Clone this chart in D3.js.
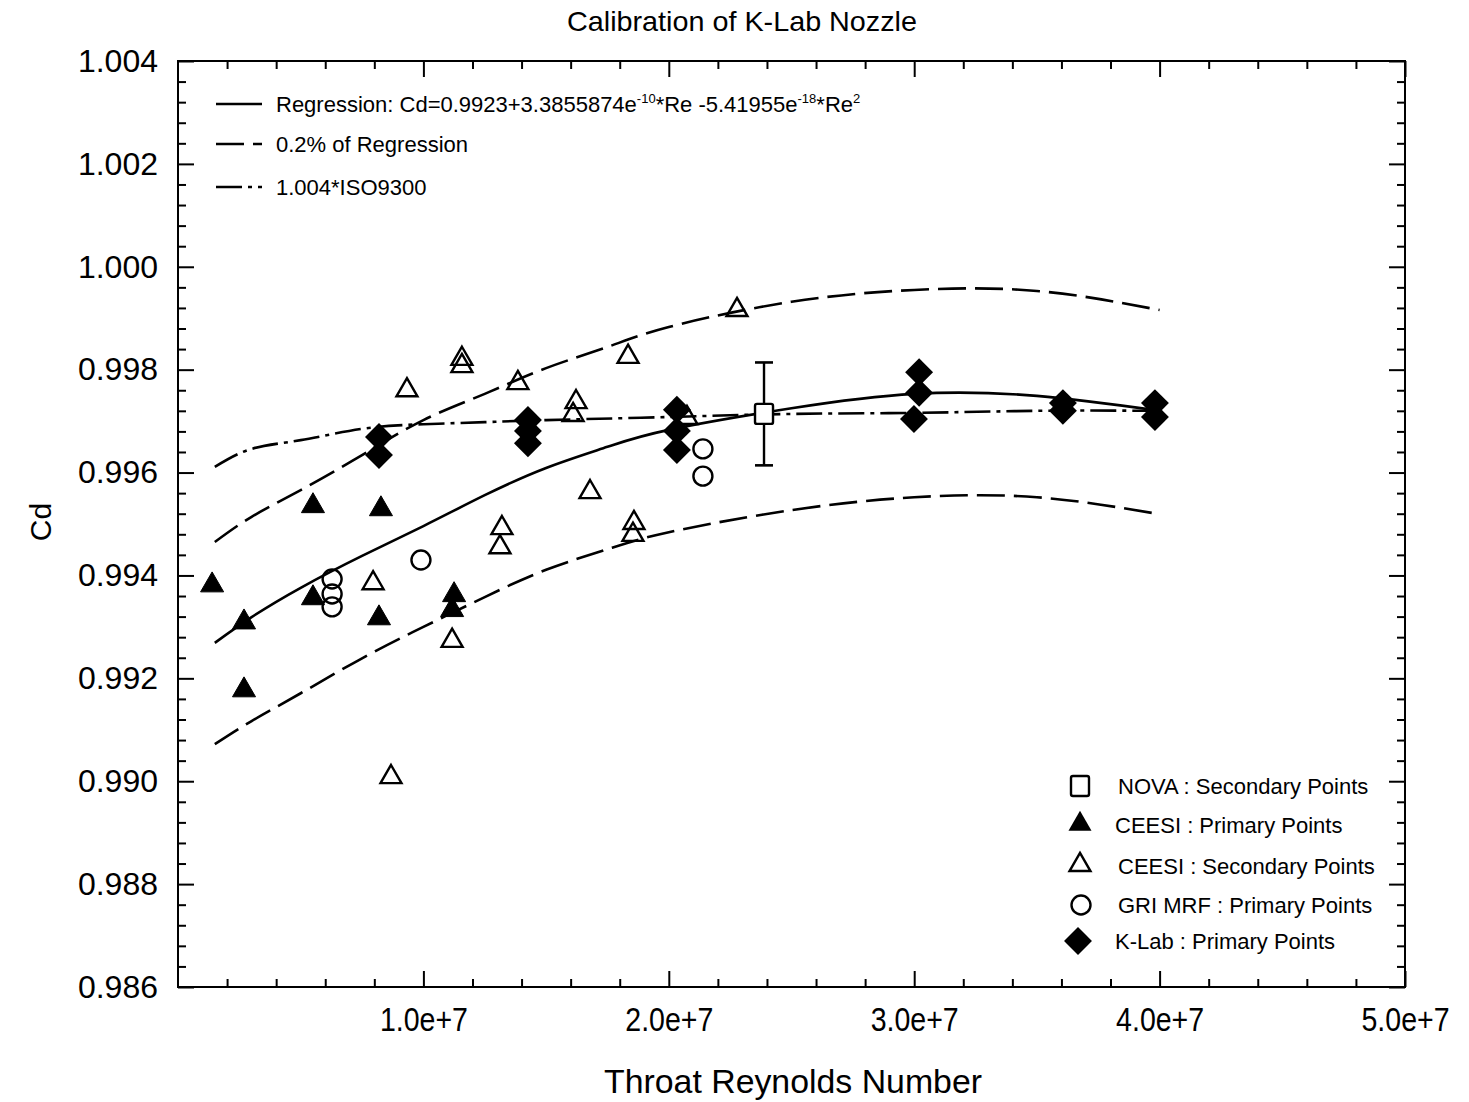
<!DOCTYPE html>
<html>
<head>
<meta charset="utf-8">
<script src="https://cdn.jsdelivr.net/npm/d3@7"></script>
<style>
  body { margin: 0; background: #fff; }
  text { fill: #000; }
  .narrow { font-family: "Liberation Sans Narrow", "Arial Narrow", "Liberation Sans", sans-serif; }
  .wide { font-family: "Liberation Sans", Arial, sans-serif; }
</style>
</head>
<body>
<div class="chart"></div>
<script>
// Curves (Throat Reynolds number, Cd)
var curveRe = [1.5e6, 3e6, 5e6, 7.5e6, 1e7, 1.25e7, 1.5e7, 1.75e7, 2e7, 2.5e7, 3e7, 3.5e7, 4e7];
var regressionCd = [0.99269, 0.99319, 0.99376, 0.99438, 0.99496, 0.99556, 0.99609, 0.99650, 0.99683, 0.99725, 0.99753, 0.99749, 0.99720];
var upperCd = [0.99465, 0.99514, 0.99566, 0.99634, 0.99702, 0.99753, 0.99803, 0.99844, 0.99883, 0.99932, 0.99955, 0.99953, 0.99916];
var lowerCd = [0.99072, 0.99117, 0.99171, 0.99239, 0.99300, 0.99358, 0.99411, 0.99451, 0.99484, 0.99527, 0.99552, 0.99552, 0.99519];
var isoRe = [1.5e6, 3e6, 5e6, 7.5e6, 1e7, 1.25e7, 1.5e7, 2e7, 2.5e7, 3e7, 3.5e7, 4e7];
var isoCd = [0.99611, 0.99646, 0.99663, 0.99685, 0.99694, 0.99698, 0.99702, 0.99708, 0.99714, 0.99716, 0.99720, 0.99720];

// Measured points
var novaRe = [2.388e7];
var novaCd = [0.99714];
var novaErr = [0.0010];

var ceesiPrimRe = [1.39e6, 2.69e6, 2.69e6, 5.50e6, 5.50e6, 8.27e6, 8.19e6, 11.25e6, 11.17e6];
var ceesiPrimCd = [0.99381, 0.99309, 0.99177, 0.99535, 0.99356, 0.99529, 0.99317, 0.99362, 0.99333];

var ceesiSecRe = [8.68e6, 11.57e6, 11.57e6, 9.33e6, 13.85e6, 7.95e6, 11.17e6, 13.20e6, 13.12e6,
                  16.22e6, 16.10e6, 16.79e6, 18.34e6, 18.58e6, 18.54e6, 20.74e6, 22.78e6];
var ceesiSecCd = [0.99008, 0.99821, 0.99807, 0.99760, 0.99774, 0.99385, 0.99273, 0.99492, 0.99455,
                  0.99737, 0.99712, 0.99562, 0.99825, 0.99502, 0.99479, 0.99706, 0.99916];

var griRe = [6.28e6, 6.28e6, 6.28e6, 9.90e6, 21.39e6, 21.39e6];
var griCd = [0.99393, 0.99364, 0.99339, 0.99430, 0.99646, 0.99593];

var klabRe = [8.19e6, 8.19e6, 14.26e6, 14.26e6, 14.26e6, 20.33e6, 20.33e6, 20.33e6,
              30.20e6, 30.20e6, 29.99e6, 36.06e6, 36.06e6, 39.81e6, 39.81e6];
var klabCd = [0.99669, 0.99634, 0.99702, 0.99681, 0.99657, 0.99722, 0.99681, 0.99644,
              0.99795, 0.99755, 0.99704, 0.99735, 0.99720, 0.99735, 0.99708];

var xMajor = [1e7, 2e7, 3e7, 4e7, 5e7];
var xLabels = ["1.0e+7", "2.0e+7", "3.0e+7", "4.0e+7", "5.0e+7"];
var yMajor = [0.986, 0.988, 0.990, 0.992, 0.994, 0.996, 0.998, 1.000, 1.002, 1.004];
var yLabels = ["0.986", "0.988", "0.990", "0.992", "0.994", "0.996", "0.998", "1.000", "1.002", "1.004"];

var lineLegend = ["0.2% of Regression", "1.004*ISO9300"];
var pointLegend = ["NOVA : Secondary Points", "CEESI : Primary Points", "CEESI : Secondary Points",
                   "GRI MRF : Primary Points", "K-Lab : Primary Points"];

var svgWidth = 1469, svgHeight = 1102;
var plot = { left: 178, right: 1405, top: 61, bottom: 987 };

var svg = d3.select(".chart").append("svg")
    .attr("width", svgWidth)
    .attr("height", svgHeight);

var x = d3.scaleLinear().domain([0, 5e7]).range([plot.left, plot.right]);
var y = d3.scaleLinear().domain([0.986, 1.004]).range([plot.bottom, plot.top]);

var xMinor = d3.range(2e6, 5e7, 2e6).filter(function(v) { return v % 1e7 !== 0; });
var yMinor = d3.range(0, 45).map(function(i) { return 0.986 + i * 0.0004; })
    .filter(function(v, i) { return i % 5 !== 0; });

function styleAxis(g) {
    g.select(".domain").remove();
    g.selectAll("line").attr("stroke", "#000").attr("stroke-width", 2);
}

// Axes: ticks pointing inward on all four sides
svg.append("g").attr("transform", "translate(0," + plot.bottom + ")")
    .call(d3.axisBottom(x).tickValues(xMajor).tickSize(-16).tickPadding(20)
        .tickFormat(function(d, i) { return xLabels[i]; }))
    .call(styleAxis)
    .selectAll("text").attr("class", "narrow").style("font-size", "34px")
    .attr("textLength", 88).attr("lengthAdjust", "spacingAndGlyphs");
svg.append("g").attr("transform", "translate(0," + plot.bottom + ")")
    .call(d3.axisBottom(x).tickValues(xMinor).tickSize(-8).tickFormat(""))
    .call(styleAxis);
svg.append("g").attr("transform", "translate(0," + plot.top + ")")
    .call(d3.axisTop(x).tickValues(xMajor).tickSize(-16).tickFormat(""))
    .call(styleAxis);
svg.append("g").attr("transform", "translate(0," + plot.top + ")")
    .call(d3.axisTop(x).tickValues(xMinor).tickSize(-8).tickFormat(""))
    .call(styleAxis);

svg.append("g").attr("transform", "translate(" + plot.left + ",0)")
    .call(d3.axisLeft(y).tickValues(yMajor).tickSize(-16).tickPadding(20)
        .tickFormat(function(d, i) { return yLabels[i]; }))
    .call(styleAxis)
    .selectAll("text").attr("class", "wide").style("font-size", "32px");
svg.append("g").attr("transform", "translate(" + plot.left + ",0)")
    .call(d3.axisLeft(y).tickValues(yMinor).tickSize(-8).tickFormat(""))
    .call(styleAxis);
svg.append("g").attr("transform", "translate(" + plot.right + ",0)")
    .call(d3.axisRight(y).tickValues(yMajor).tickSize(-16).tickFormat(""))
    .call(styleAxis);
svg.append("g").attr("transform", "translate(" + plot.right + ",0)")
    .call(d3.axisRight(y).tickValues(yMinor).tickSize(-8).tickFormat(""))
    .call(styleAxis);

// frame
svg.append("rect")
    .attr("x", plot.left).attr("y", plot.top)
    .attr("width", plot.right - plot.left).attr("height", plot.bottom - plot.top)
    .attr("fill", "none").attr("stroke", "#000").attr("stroke-width", 2);

// Titles
svg.append("text").attr("class", "narrow")
    .attr("x", 742).attr("y", 31).attr("text-anchor", "middle")
    .attr("textLength", 350).attr("lengthAdjust", "spacingAndGlyphs")
    .style("font-size", "28px").text("Calibration of K-Lab Nozzle");
svg.append("text").attr("class", "wide")
    .attr("x", 793).attr("y", 1093).attr("text-anchor", "middle")
    .attr("textLength", 378).attr("lengthAdjust", "spacingAndGlyphs")
    .style("font-size", "33px").text("Throat Reynolds Number");
svg.append("text").attr("class", "wide")
    .attr("transform", "translate(51,522) rotate(-90)").attr("text-anchor", "middle")
    .style("font-size", "30px").text("Cd");

// Curves
var line = d3.line()
    .x(function(d) { return x(d[0]); })
    .y(function(d) { return y(d[1]); })
    .curve(d3.curveNatural);

var dashed = "28,9";
var dashDot = "26,6,4,6";

function drawCurve(re, cd, dash) {
    svg.append("path")
        .datum(d3.zip(re, cd))
        .attr("d", line)
        .attr("fill", "none")
        .attr("stroke", "#000")
        .attr("stroke-width", 2.6)
        .attr("stroke-dasharray", dash);
}
drawCurve(curveRe, upperCd, dashed);
drawCurve(curveRe, lowerCd, dashed);
drawCurve(isoRe, isoCd, dashDot);
drawCurve(curveRe, regressionCd, null);

// Marker helpers
function triangle(size) { return d3.symbol().type(d3.symbolTriangle).size(size)(); }
var diamondPath = d3.symbol().type(d3.symbolSquare).size(390)();

function drawTriangles(re, cd, filled) {
    svg.append("g").selectAll("path")
        .data(d3.zip(re, cd))
        .enter()
        .append("path")
        .attr("d", filled ? triangle(230) : triangle(190))
        .attr("transform", function(d) { return "translate(" + x(d[0]) + "," + y(d[1]) + ")"; })
        .attr("fill", filled ? "#000" : "none")
        .attr("stroke", "#000")
        .attr("stroke-width", filled ? 1 : 2.4);
}

// NOVA error bar and square
var nova = d3.zip(novaRe, novaCd, novaErr);
var novaG = svg.append("g").selectAll("g").data(nova).enter().append("g");
novaG.append("line")
    .attr("x1", function(d) { return x(d[0]); }).attr("x2", function(d) { return x(d[0]); })
    .attr("y1", function(d) { return y(d[1] + d[2]); }).attr("y2", function(d) { return y(d[1] - d[2]); })
    .attr("stroke", "#000").attr("stroke-width", 2.4);
[1, -1].forEach(function(s) {
    novaG.append("line")
        .attr("x1", function(d) { return x(d[0]) - 9; }).attr("x2", function(d) { return x(d[0]) + 9; })
        .attr("y1", function(d) { return y(d[1] + s * d[2]); }).attr("y2", function(d) { return y(d[1] + s * d[2]); })
        .attr("stroke", "#000").attr("stroke-width", 2.6);
});
novaG.append("rect")
    .attr("x", function(d) { return x(d[0]) - 9; }).attr("y", function(d) { return y(d[1]) - 10; })
    .attr("width", 18).attr("height", 20).attr("rx", 2)
    .attr("fill", "#fff").attr("stroke", "#000").attr("stroke-width", 2.4);

drawTriangles(ceesiPrimRe, ceesiPrimCd, true);
drawTriangles(ceesiSecRe, ceesiSecCd, false);

svg.append("g").selectAll("circle")
    .data(d3.zip(griRe, griCd))
    .enter()
    .append("circle")
    .attr("cx", function(d) { return x(d[0]); })
    .attr("cy", function(d) { return y(d[1]); })
    .attr("r", 9.5)
    .attr("fill", "none")
    .attr("stroke", "#000")
    .attr("stroke-width", 2.4);

svg.append("g").selectAll("path")
    .data(d3.zip(klabRe, klabCd))
    .enter()
    .append("path")
    .attr("d", diamondPath)
    .attr("transform", function(d) { return "translate(" + x(d[0]) + "," + y(d[1]) + ") rotate(45)"; })
    .attr("fill", "#000");

// Legend: lines (top left)
var legendLines = svg.append("g").attr("class", "narrow").style("font-size", "22px");
var ly = [104, 144, 187];
[null, dashed, dashDot].forEach(function(dash, i) {
    legendLines.append("line")
        .attr("x1", 216).attr("x2", 262).attr("y1", ly[i]).attr("y2", ly[i])
        .attr("stroke", "#000").attr("stroke-width", 2.4)
        .attr("stroke-dasharray", dash);
});
var reg = legendLines.append("text").attr("x", 276).attr("y", ly[0] + 8);
reg.append("tspan").text("Regression: Cd=0.9923+3.3855874e");
reg.append("tspan").attr("dy", -9).style("font-size", "13px").text("-10");
reg.append("tspan").attr("dy", 9).text("*Re  -5.41955e");
reg.append("tspan").attr("dy", -9).style("font-size", "13px").text("-18");
reg.append("tspan").attr("dy", 9).text("*Re");
reg.append("tspan").attr("dy", -9).style("font-size", "13px").text("2");
lineLegend.forEach(function(t, i) {
    legendLines.append("text").attr("x", 276).attr("y", ly[i + 1] + 8).text(t);
});

// Legend: points (bottom right)
var py = [786, 825, 866, 905, 941];
var legendPts = svg.append("g");
legendPts.append("rect").attr("x", 1071).attr("y", py[0] - 10).attr("width", 18).attr("height", 20).attr("rx", 2)
    .attr("fill", "none").attr("stroke", "#000").attr("stroke-width", 2.4);
legendPts.append("path").attr("d", triangle(230)).attr("transform", "translate(1080," + (py[1] - 1) + ")")
    .attr("fill", "#000");
legendPts.append("path").attr("d", triangle(190)).attr("transform", "translate(1080," + (py[2] - 1) + ")")
    .attr("fill", "none").attr("stroke", "#000").attr("stroke-width", 2.4);
legendPts.append("circle").attr("cx", 1081).attr("cy", py[3]).attr("r", 9.5)
    .attr("fill", "none").attr("stroke", "#000").attr("stroke-width", 2.4);
legendPts.append("path").attr("d", diamondPath).attr("transform", "translate(1078," + py[4] + ") rotate(45)")
    .attr("fill", "#000");
pointLegend.forEach(function(t, i) {
    legendPts.append("text").attr("class", "wide")
        .attr("x", i === 1 || i === 4 ? 1115 : 1118).attr("y", py[i] + 8)
        .style("font-size", "22px").text(t);
});
</script>
</body>
</html>
